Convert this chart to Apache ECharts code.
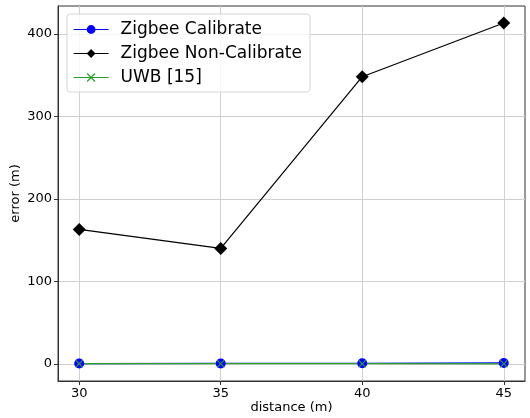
<!DOCTYPE html>
<html><head><meta charset="utf-8">
<script src="https://cdn.jsdelivr.net/npm/echarts@6/dist/echarts.min.js"></script>
<style>html,body{margin:0;padding:0;background:#fff}#c{width:530px;height:418px}</style>
</head><body><div id="c"></div>
<script>
const distances = [30, 35, 40, 45];
const calibrate = [0.5, 0.6, 0.8, 1.2];
const nonCalibrate = [163, 140, 348, 413];
const uwb = [0.3, 0.3, 0.3, 0.2];
const xTicks = [30, 35, 40, 45];
const yTicks = [0, 100, 200, 300, 400];
const xLimits = [29.25, 45.75];
const yLimits = [-20.65, 433.65];

const font = 'DejaVu Sans';
const pair = (xs, ys) => xs.map((x, i) => [x, ys[i]]);
const xPath = 'path://M0,1L1,0L5,4L9,0L10,1L6,5L10,9L9,10L5,6L1,10L0,9L4,5Z';

const chart = echarts.init(document.getElementById('c'), null, {renderer: 'canvas'});
chart.setOption({
  animation: false,
  grid: {left: 58, right: 5, top: 6, bottom: 37, show: true, borderColor: '#333', borderWidth: 1,
         containLabel: false, outerBoundsMode: 'none'},
  legend: {
    left: 67, top: 14, orient: 'vertical',
    itemWidth: 35, itemHeight: 11, itemGap: 7,
    padding: [7, 8, 6, 6],
    borderColor: '#d5d5d5', borderWidth: 1, borderRadius: 3,
    backgroundColor: 'rgba(255,255,255,0.8)',
    lineStyle: {width: 1.2},
    textStyle: {fontFamily: font, fontSize: 17, color: '#000', padding: [0, 0, 0, 7]},
    data: ['Zigbee Calibrate', 'Zigbee Non-Calibrate', 'UWB [15]']
  },
  xAxis: {
    type: 'value', min: xLimits[0], max: xLimits[1],
    name: 'distance (m)', nameLocation: 'middle', nameGap: 20, nameMoveOverlap: false,
    nameTextStyle: {fontFamily: font, fontSize: 13, color: '#000'},
    axisLine: {show: true, onZero: false, lineStyle: {color: '#333'}},
    axisTick: {show: true, customValues: xTicks, length: 4, lineStyle: {color: '#333'}},
    axisLabel: {customValues: xTicks, fontFamily: font, fontSize: 13, color: '#000', margin: 6},
    splitLine: {show: true, lineStyle: {color: '#d0d0d0'}}
  },
  yAxis: {
    type: 'value', min: yLimits[0], max: yLimits[1],
    name: 'error (m)', nameLocation: 'middle', nameGap: 36, nameMoveOverlap: false,
    nameTextStyle: {fontFamily: font, fontSize: 13, color: '#000'},
    axisLine: {show: true, onZero: false, lineStyle: {color: '#333'}},
    axisTick: {show: true, customValues: yTicks, length: 4, lineStyle: {color: '#333'}},
    axisLabel: {customValues: yTicks, fontFamily: font, fontSize: 13, color: '#000', margin: 6},
    splitLine: {show: true, lineStyle: {color: '#d0d0d0'}}
  },
  series: [
    {name: 'Zigbee Calibrate', type: 'line', data: pair(distances, calibrate),
     symbol: 'circle', symbolSize: 10, color: '#0000ff',
     lineStyle: {width: 1.2, color: '#0000ff'}, itemStyle: {color: '#0000ff'}},
    {name: 'Zigbee Non-Calibrate', type: 'line', data: pair(distances, nonCalibrate),
     symbol: 'diamond', symbolSize: [13, 13], color: '#000',
     lineStyle: {width: 1.2, color: '#000'}, itemStyle: {color: '#000'}},
    {name: 'UWB [15]', type: 'line', data: pair(distances, uwb),
     symbol: xPath, symbolSize: 8, color: '#2ca02c',
     lineStyle: {width: 1.2, color: '#2ca02c'}, itemStyle: {color: '#2ca02c'}}
  ]
});
</script></body></html>
